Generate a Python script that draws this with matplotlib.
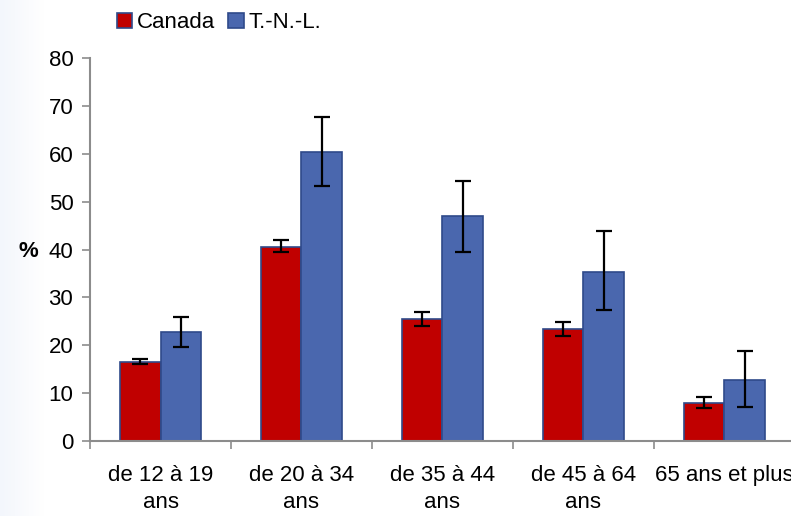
import numpy as np
import matplotlib
matplotlib.use('Agg')
import matplotlib.pyplot as plt

plt.rcParams['font.family'] = ['Liberation Sans', 'DejaVu Sans']

# data
categories = ['de 12 à 19\nans', 'de 20 à 34\nans', 'de 35 à 44\nans', 'de 45 à 64\nans', '65 ans et plus']
canada = [16.5, 40.6, 25.4, 23.3, 8.0]
canada_low = [16.1, 39.5, 24.1, 22.0, 7.0]
canada_high = [17.1, 41.9, 27.0, 24.8, 9.2]
tnl = [22.8, 60.3, 46.9, 35.4, 12.8]
tnl_low = [19.7, 53.2, 39.4, 27.3, 7.1]
tnl_high = [25.9, 67.6, 54.4, 43.8, 18.8]

red = '#c00000'
blue = '#4a67ae'
edge = '#2f4a8a'
axis_gray = '#8c8c8c'
fs = 16

fig = plt.figure(figsize=(7.91, 5.16), dpi=100)

# faint bluish strip along the left edge
bg = fig.add_axes([0, 0, 0.055, 1], zorder=-5)
grad = np.linspace(0, 1, 64).reshape(1, -1)
bg.imshow(grad, aspect='auto', cmap=matplotlib.colors.LinearSegmentedColormap.from_list(
    'strip', ['#f3f6fc', '#ffffff']), extent=[0, 1, 0, 1])
bg.axis('off')

ax = fig.add_axes([0.1138, 0.1453, 0.8912, 0.7423])
ax.patch.set_alpha(0)

x = np.arange(len(categories))
w = 0.287

err_c = [np.array(canada) - np.array(canada_low), np.array(canada_high) - np.array(canada)]
err_t = [np.array(tnl) - np.array(tnl_low), np.array(tnl_high) - np.array(tnl)]

ax.bar(x - w / 2, canada, w, color=red, edgecolor=edge, linewidth=1.2, label='Canada', zorder=2)
ax.bar(x + w / 2, tnl, w, color=blue, edgecolor=edge, linewidth=1.2, label='T.-N.-L.', zorder=2)
ax.errorbar(x - w / 2, canada, yerr=err_c, fmt='none', ecolor='black', elinewidth=1.6,
            capsize=6, capthick=1.6, zorder=3)
ax.errorbar(x + w / 2, tnl, yerr=err_t, fmt='none', ecolor='black', elinewidth=1.6,
            capsize=6, capthick=1.6, zorder=3)

ax.set_xlim(-0.5, len(categories) - 0.5)
ax.set_ylim(0, 80)
ax.set_yticks(range(0, 81, 10))
ax.set_xticks(x)
ax.set_xticklabels(categories, fontsize=fs, linespacing=1.4)
ax.set_xticks(np.arange(-0.5, len(categories), 1), minor=True)
ax.tick_params(axis='x', which='major', length=0, pad=17)
ax.tick_params(axis='x', which='minor', length=6, width=1.2, color=axis_gray, direction='out')
ax.tick_params(axis='y', length=6, width=1.2, color=axis_gray, direction='out', labelsize=fs, pad=6)

for s in ['top', 'right']:
    ax.spines[s].set_visible(False)
for s in ['left', 'bottom']:
    ax.spines[s].set_color(axis_gray)
    ax.spines[s].set_linewidth(1.5)
ax.spines['bottom'].set_zorder(4)

ax.set_ylabel('%', rotation=0, fontsize=fs, fontweight='bold', va='center')
ax.yaxis.set_label_coords(-0.088, 0.495)

leg = fig.legend(loc='upper left', bbox_to_anchor=(0.122, 1.015), ncol=2, frameon=False,
                 fontsize=fs, handlelength=0.7, handleheight=0.7, handletextpad=0.2,
                 columnspacing=0.6)

fig.savefig('out.png', dpi=100)
